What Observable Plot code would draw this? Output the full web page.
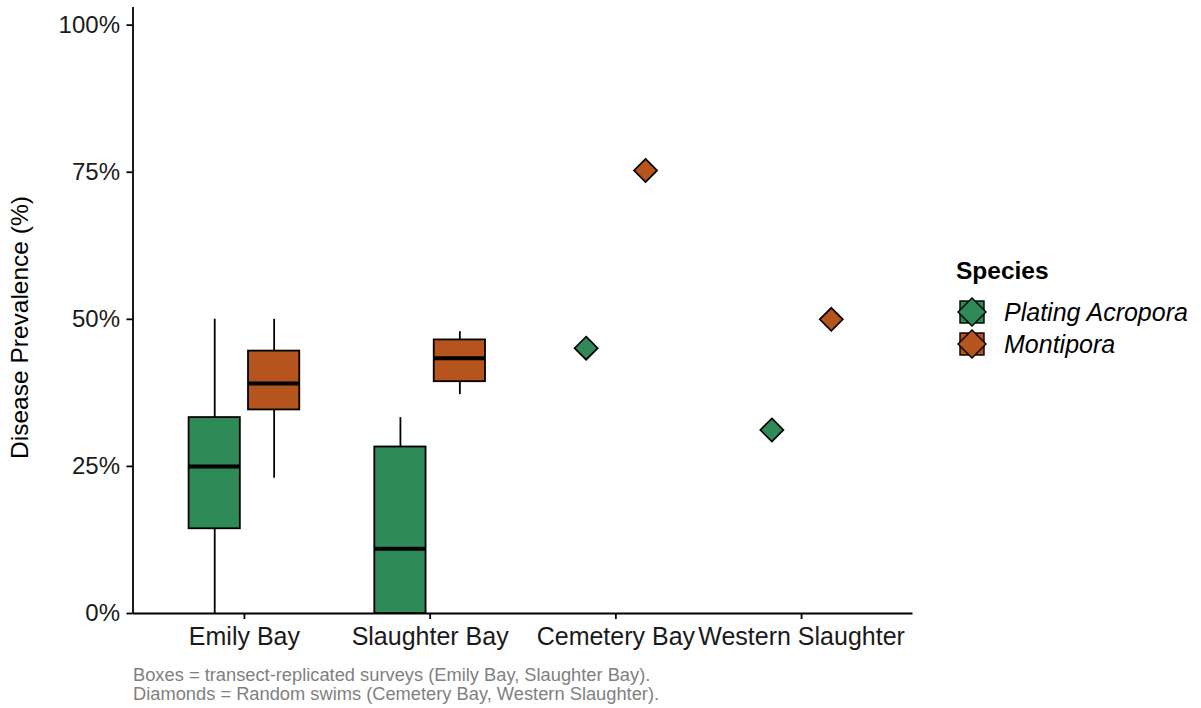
<!DOCTYPE html>
<html>
<head>
<meta charset="utf-8">
<script src="https://cdn.jsdelivr.net/npm/d3@7"></script>
<script src="https://cdn.jsdelivr.net/npm/@observablehq/plot@0.6"></script>
<style>
  html, body { margin: 0; padding: 0; background: #fff; }
  #wrap { position: relative; width: 1201px; height: 708px; font-family: "Liberation Sans", Arial, sans-serif; }
  #chart svg { display: block; }
  #caption { position: absolute; left: 133px; top: 666px; font-size: 18.3px; line-height: 18.7px; color: #7f7f7f; }
  #legend { position: absolute; left: 956px; top: 256px; color: #000; }
  #legend .title { font-weight: bold; font-size: 24.5px; height: 40px; line-height: 30px; }
  #legend .row { display: flex; align-items: center; height: 32px; }
  #legend .row span { font-style: italic; font-size: 25px; margin-left: 16px; }
</style>
</head>
<body>
<div id="wrap">
  <div id="chart"></div>
  <div id="legend"></div>
  <div id="caption">Boxes = transect-replicated surveys (Emily Bay, Slaughter Bay).<br>Diamonds = Random swims (Cemetery Bay, Western Slaughter).</div>
</div>
<script>
// Survey sites along the x axis
const sites = ["Emily Bay", "Slaughter Bay", "Cemetery Bay", "Western Slaughter"];
const species = ["Plating Acropora", "Montipora"];
const speciesColors = ["#2E8B57", "#B5541C"];

// Transect-replicated surveys: five-number summaries of disease prevalence
const boxSite = ["Emily Bay", "Emily Bay", "Slaughter Bay", "Slaughter Bay"];
const boxSpecies = ["Plating Acropora", "Montipora", "Plating Acropora", "Montipora"];
const boxMin = [0.000, 0.230, 0.000, 0.372];
const boxQ1 = [0.144, 0.346, 0.000, 0.394];
const boxMedian = [0.250, 0.391, 0.110, 0.434];
const boxQ3 = [0.333, 0.446, 0.283, 0.465];
const boxMax = [0.500, 0.500, 0.333, 0.479];

// Random swims: a single prevalence estimate per site and species
const swimSite = ["Cemetery Bay", "Cemetery Bay", "Western Slaughter", "Western Slaughter"];
const swimSpecies = ["Plating Acropora", "Montipora", "Plating Acropora", "Montipora"];
const swimPrevalence = [0.451, 0.753, 0.312, 0.500];

const yTicks = [0, 0.25, 0.5, 0.75, 1];
const yTitle = "Disease Prevalence (%)";

// Build row tables
const boxes = boxSite.map((site, i) => ({
  site, species: boxSpecies[i],
  min: boxMin[i], q1: boxQ1[i], median: boxMedian[i], q3: boxQ3[i], max: boxMax[i]
}));
const swims = swimSite.map((site, i) => ({
  site, species: swimSpecies[i], prevalence: swimPrevalence[i]
}));

// Scale domains (discrete sites sit at 1..n with 0.6 padding on each side)
const xDomain = [0.4, sites.length + 0.6];
const yDomain = [0, 1.03];

// Dodge the two species side by side within each site (in x-scale units)
const dodge = 0.16;
const halfBox = 0.138;
const xPos = d => sites.indexOf(d.site) + 1 + (d.species === species[0] ? -dodge : dodge);

const chart = Plot.plot({
  width: 1201,
  height: 660,
  marginLeft: 132.5,
  marginRight: 288.5,
  marginTop: 7,
  marginBottom: 47,
  style: { fontFamily: "Liberation Sans, Arial, sans-serif", fontSize: "24px", color: "#1a1a1a", background: "#fff" },
  x: { type: "linear", domain: xDomain },
  y: { domain: yDomain },
  color: { domain: species, range: speciesColors },
  marks: [
    // axes
    Plot.axisX({
      ticks: sites.map((s, i) => i + 1), tickFormat: i => sites[i - 1],
      tickSize: 6, tickPadding: 8, fontSize: 25, label: null,
      stroke: "#000", strokeWidth: 1.8
    }),
    Plot.axisY({
      ticks: yTicks, tickFormat: d => Math.round(d * 100) + "%",
      tickSize: 6, tickPadding: 7, fontSize: 24, label: null,
      stroke: "#000", strokeWidth: 1.8
    }),
    // axis lines along the bottom and left edges of the panel
    Plot.ruleY([yDomain[0]], { x1: xDomain[0], x2: xDomain[1], stroke: "#000", strokeWidth: 1.8 }),
    Plot.ruleX([xDomain[0]], { y1: yDomain[0], y2: yDomain[1], stroke: "#000", strokeWidth: 1.8 }),
    // y axis title
    Plot.text([yTitle], {
      text: d => d, frameAnchor: "left", rotate: -90, textAnchor: "middle",
      lineAnchor: "top", dx: -122, dy: 17, fontSize: 24.5, fill: "#000"
    }),
    // whiskers
    Plot.ruleX(boxes, { x: xPos, y1: "min", y2: "max", stroke: "#000", strokeWidth: 1.8 }),
    // boxes (Q1 to Q3)
    Plot.rect(boxes, {
      x1: d => xPos(d) - halfBox, x2: d => xPos(d) + halfBox,
      y1: "q1", y2: "q3", fill: "species", stroke: "#000", strokeWidth: 1.8
    }),
    // medians
    Plot.ruleY(boxes, {
      x1: d => xPos(d) - halfBox, x2: d => xPos(d) + halfBox,
      y: "median", stroke: "#000", strokeWidth: 4
    }),
    // random swim diamonds
    Plot.dot(swims, {
      x: xPos, y: "prevalence", symbol: "diamond2", r: 10.4,
      fill: "species", stroke: "#000", strokeWidth: 1.7
    })
  ]
});
document.getElementById("chart").append(chart);

// Species legend: box key with a diamond drawn over it
const legend = d3.select("#legend");
legend.append("div").attr("class", "title").text("Species");
species.forEach((s, i) => {
  const row = legend.append("div").attr("class", "row");
  const svg = row.append("svg").attr("width", 32).attr("height", 32);
  svg.append("rect").attr("x", 4).attr("y", 5).attr("width", 24).attr("height", 22)
    .attr("fill", speciesColors[i]).attr("stroke", "#000").attr("stroke-width", 1.4);
  svg.append("line").attr("x1", 4).attr("x2", 28).attr("y1", 16).attr("y2", 16)
    .attr("stroke", "#000").attr("stroke-width", 2.5);
  svg.append("path").attr("d", "M16,2 L30,16 L16,30 L2,16 Z")
    .attr("fill", speciesColors[i]).attr("stroke", "#000").attr("stroke-width", 1.4);
  row.append("span").text(s);
});
</script>
</body>
</html>
